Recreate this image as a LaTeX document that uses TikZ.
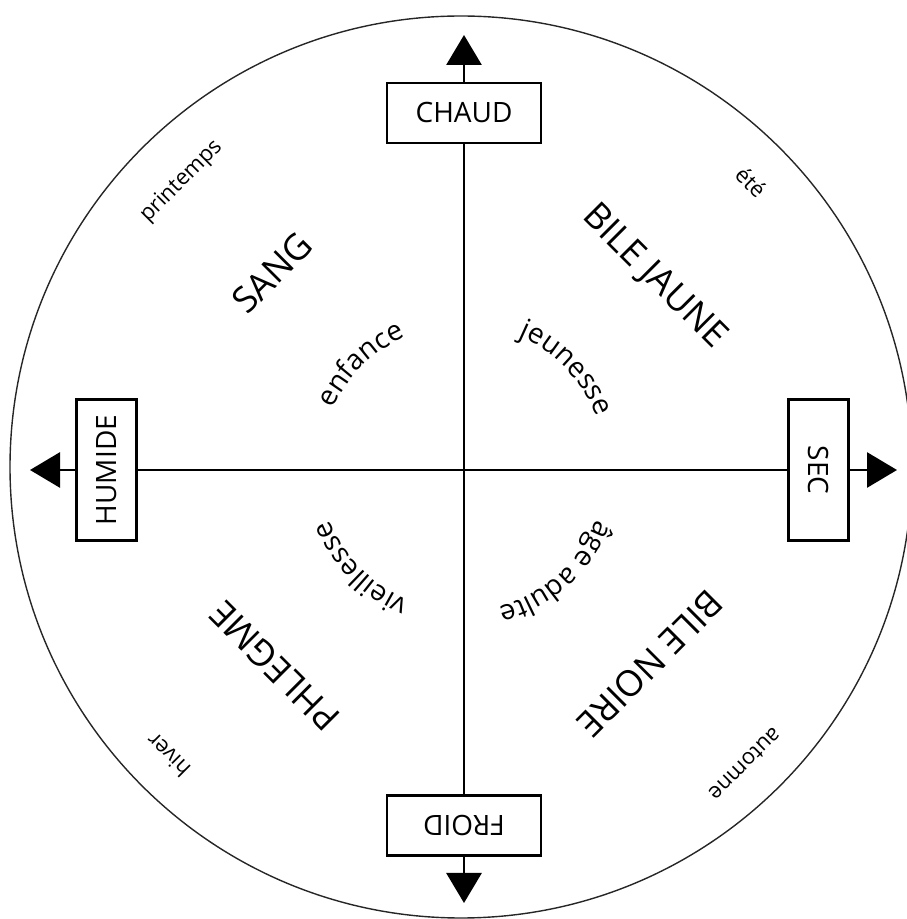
\documentclass[tikz,border=0pt]{standalone}
\usepackage{fontspec}
\setmainfont{Open Sans}
\usetikzlibrary{arrows.meta,decorations.text}
\newcommand\agefont{\fontsize{28}{30}\selectfont}
\begin{document}
\begin{tikzpicture}[x=1pt,y=1pt,
  axis/.style={line width=2.9pt,draw=black},
  tipped/.style={-{Triangle[length=30pt,width=35pt]}},
  qbox/.style={draw,line width=2.9pt,fill=white,minimum width=154pt,minimum height=60pt,inner sep=0pt,font=\fontsize{28}{30}\selectfont},
  big/.style={font=\fontsize{36}{40}\selectfont,inner sep=0pt},
  season/.style={font=\fontsize{22}{24}\selectfont,inner sep=0pt},
  curved/.style={decorate,decoration={text along path,text align=center,text={|\agefont|#1}}}
]
\useasboundingbox (0,0) rectangle (907,919);
\draw[line width=1.4pt,black!85] (461,452) circle[radius=451];
\coordinate (C) at (463,451);
% boxes
\node[qbox] (chaud) at (464,806) {CHAUD};
\node[qbox,rotate=180] (froid) at (464,93.5) {FROID};
\node[qbox,rotate=90,minimum width=141pt] (humide) at (106.5,449) {HUMIDE};
\node[qbox,rotate=-90,minimum width=141pt] (sec) at (818.5,449) {SEC};
% arrow tips
\coordinate (ntip) at (464,884);
\coordinate (stip) at (464,16);
\coordinate (wtip) at (30,449);
\coordinate (etip) at (897,449);
% axes
\draw[axis] (chaud) -- (froid);
\draw[axis] (humide) -- (sec);
\draw[axis,tipped] (chaud) -- (ntip);
\draw[axis,tipped] (froid) -- (stip);
\draw[axis,tipped] (humide) -- (wtip);
\draw[axis,tipped] (sec) -- (etip);
% humours
\node[big,rotate=45] (sang) at (272,646) {SANG};
\node[big,rotate=-45] (jaune) at (654,642) {BILE JAUNE};
\node[big,rotate=135] (phlegme) at (274.5,252.5) {PHLEGME};
\node[big,rotate=225] (noire) at (650,255.5) {BILE NOIRE};
% seasons
\node[season,rotate=45] (printemps) at (181.5,737.5) {printemps};
\node[season,rotate=-45] (ete) at (751,737) {été};
\node[season,rotate=135] (hiver) at (168,164) {hiver};
\node[season,rotate=225] (automne) at (745,155) {automne};
% ages
\path[curved=enfance] ([shift={(194.5:143)}]C) arc[start angle=194.5,end angle=74.5,radius=143];
\path[curved=jeunesse] ([shift={(104:143)}]C) arc[start angle=104,end angle=-16,radius=143];
\path[curved=vieillesse] ([shift={(284.5:143)}]C) arc[start angle=284.5,end angle=164.5,radius=143];
\path[curved=âge adulte] ([shift={(11.5:143)}]C) arc[start angle=11.5,end angle=-108.5,radius=143];
\end{tikzpicture}
\end{document}
